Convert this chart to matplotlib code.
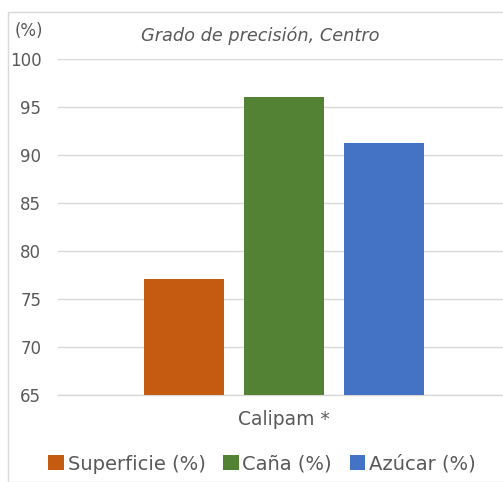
import matplotlib.pyplot as plt
from matplotlib.patches import Rectangle

plt.rcParams['font.family'] = ['DejaVu Sans']

title = 'Grado de precisión, Centro'
category = 'Calipam *'
series = ['Superficie (%)', 'Caña (%)', 'Azúcar (%)']
values = [77.1, 96.0, 91.3]
colors = ['#C55A11', '#548235', '#4472C4']
offsets = [-1, 0, 1]

fig = plt.figure(figsize=(5.03, 4.82), dpi=100)
fig.patches.append(Rectangle((8 / 503, 0), 1, 1 - 12 / 482, transform=fig.transFigure,
                             fill=False, edgecolor='#D9D9D9', linewidth=1))
ax = fig.add_axes([58 / 503, 1 - 395 / 482, 445 / 503, 336 / 482])

for off, val, col, name in zip(offsets, values, colors, series):
    ax.bar(off, val - 65, bottom=65, width=0.8, color=col, label=name, zorder=3)

ax.set_ylim(65, 100)
ax.set_xlim(-2.26, 2.19)
ax.set_yticks(range(65, 101, 5))
ax.set_xticks([0])
ax.set_xticklabels([category], fontsize=13.5, color='#595959')
ax.tick_params(axis='x', length=0, pad=11)
ax.tick_params(axis='y', length=0, labelsize=12, labelcolor='#595959', pad=12)
ax.grid(axis='y', color='#D9D9D9', linewidth=1, zorder=0)
ax.axhline(65, color='#D9D9D9', linewidth=1, zorder=1, clip_on=False)
for s in ax.spines.values():
    s.set_visible(False)

fig.text(260 / 503, 1 - 36 / 482, title, ha='center', va='center',
         fontsize=12.8, style='italic', color='#595959')
fig.text(29 / 503, 1 - 31 / 482, '(%)', ha='center', va='center',
         fontsize=12, color='#595959')

fig.legend(loc='center', bbox_to_anchor=(262 / 503, 1 - 464 / 482), ncol=3,
           frameon=False, fontsize=14, handlelength=0.8, handleheight=0.8,
           handletextpad=0.2, columnspacing=0.9, labelcolor='#595959')

fig.savefig('out.png', dpi=100)
